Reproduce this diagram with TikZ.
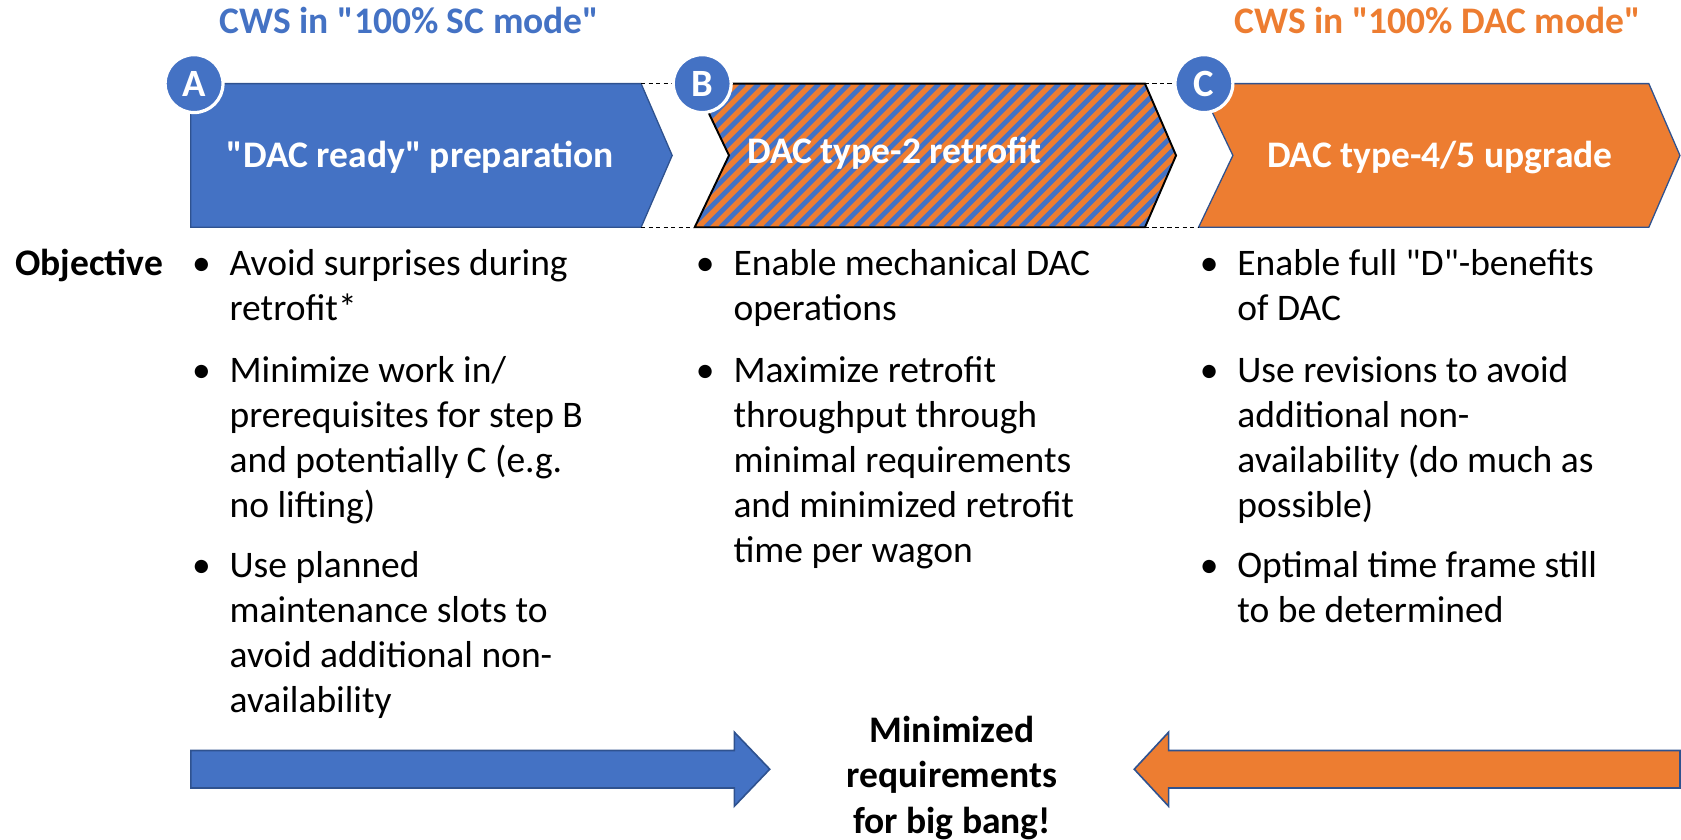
\documentclass[tikz,border=0pt]{standalone}
\usepackage{fontspec}
\setmainfont{Carlito}[Ligatures=TeXOff]
\definecolor{cblue}{HTML}{4472C4}
\definecolor{corange}{HTML}{ED7D31}
\definecolor{cedge}{HTML}{2F528F}
% bullet with a multi-line text block whose baseline is its first line
\newcommand\bulletitem[4]{%
  \node[bul] (#1b) at (#2-8,#3) {\textbullet};
  \node[btxt] (#1) at (#2+27,#3) {\begin{tabular}[t]{@{}l@{}}#4\end{tabular}};}
\begin{document}
\begin{tikzpicture}[x=1pt,y=-1pt,
  body/.style={font=\fontsize{35}{42}\selectfont, inner sep=0pt},
  bul/.style={body, anchor=base west},
  btxt/.style={body, anchor=base west},
  title/.style={font=\fontsize{35}{42}\selectfont\bfseries, inner sep=0pt, anchor=base},
  chevtext/.style={font=\fontsize{35}{42}\selectfont\bfseries, text=white, inner sep=0pt},
  badge/.style={circle, fill=cblue, draw=white, line width=3pt, minimum size=54pt,
    inner sep=0pt, text=white, font=\fontsize{36}{40}\selectfont\bfseries},
  joint/.style={dashed, line width=1pt, dash pattern=on 4pt off 3pt},
  bigarrow/.style={draw=cedge, line width=1.5pt, line join=miter}
]
\useasboundingbox (0,0) rectangle (1568,783);

% headings
\node[title, text=cblue] (hsc) at (382,31) {CWS in "100\% SC mode"};
\node[title, text=corange] (hdac) at (1341,31) {CWS in "100\% DAC mode"};

% step A
\fill[cblue] (178,78) -- (598,78) -- (627,145) -- (598,212) -- (178,212) -- cycle;
\draw[cedge, line width=1.2pt] (178,78) -- (598,78) -- (627,145) -- (598,212) -- (178,212) -- cycle;

% step B: striped chevron
\begin{scope}
  \clip (648,78) -- (1068,78) -- (1097,145) -- (1068,212) -- (648,212) -- (680,145) -- cycle;
  \fill[corange] (640,70) rectangle (1110,220);
  \foreach \s in {-140,-126,...,1110}
    \draw[cblue, line width=4.5pt] (\s,212) -- (\s+134,78);
\end{scope}
\draw[black, line width=1.8pt, line join=miter] (648,78) -- (1068,78) -- (1097,145) -- (1068,212) -- (648,212) -- (680,145) -- cycle;

% step C
\fill[corange] (1118,78) -- (1538,78) -- (1567,145) -- (1538,212) -- (1118,212) -- (1150,145) -- cycle;
\draw[cedge, line width=1.2pt] (1118,78) -- (1538,78) -- (1567,145) -- (1538,212) -- (1118,212) -- (1150,145) -- cycle;

% joints between the steps
\coordinate (a1) at (598,78);  \coordinate (b1) at (648,78);
\coordinate (a2) at (598,212); \coordinate (b2) at (648,212);
\coordinate (c1) at (1068,78);  \coordinate (d1) at (1118,78);
\coordinate (c2) at (1068,212); \coordinate (d2) at (1118,212);
\draw[joint] (a1) -- (b1);
\draw[joint] (a2) -- (b2);
\draw[joint] (c1) -- (d1);
\draw[joint] (c2) -- (d2);

% step labels
\node[chevtext] (ta) at (392,147) {"DAC ready" preparation};
\node[chevtext, anchor=west] (tb) at (697,143) {DAC type-2 retrofit};
\node[chevtext] (tc) at (1343,147) {DAC type-4/5 upgrade};

% badges
\node[badge] (ba) at (181,78) {A};
\node[badge] (bb) at (655,78) {B};
\node[badge] (bc) at (1123,78) {C};

% objectives
\node[body, font=\fontsize{35}{42}\selectfont\bfseries, anchor=base west] (obj) at (14,257) {Objective};

\bulletitem{a1t}{187}{257}{Avoid surprises during\\retrofit*}
\bulletitem{a2t}{187}{357}{Minimize work in/\\prerequisites for step B\\and potentially C (e.g.\\no lifting)}
\bulletitem{a3t}{187}{539}{Use planned\\maintenance slots to\\avoid additional non-\\availability}

\bulletitem{b1t}{657}{257}{Enable mechanical DAC\\operations}
\bulletitem{b2t}{657}{357}{Maximize retrofit\\throughput through\\minimal requirements\\and minimized retrofit\\time per wagon}

\bulletitem{c1t}{1127}{257}{Enable full "D"-benefits\\of DAC}
\bulletitem{c2t}{1127}{357}{Use revisions to avoid\\additional non-\\availability (do much as\\possible)}
\bulletitem{c3t}{1127}{539}{Optimal time frame still\\to be determined}

% convergence arrows
\fill[cblue] (178,700) -- (685,700) -- (685,683) -- (718,717.5) -- (685,752) -- (685,735) -- (178,735) -- cycle;
\draw[bigarrow] (178,700) -- (685,700) -- (685,683) -- (718,717.5) -- (685,752) -- (685,735) -- (178,735) -- cycle;
\fill[corange] (1567,700) -- (1090,700) -- (1090,683) -- (1058,717.5) -- (1090,752) -- (1090,735) -- (1567,735) -- cycle;
\draw[bigarrow] (1567,700) -- (1090,700) -- (1090,683) -- (1058,717.5) -- (1090,752) -- (1090,735) -- (1567,735) -- cycle;

\node[body, font=\fontsize{35}{42}\selectfont\bfseries, anchor=base] (goal) at (888,693)
  {\begin{tabular}[t]{@{}c@{}}Minimized\\requirements\\for big bang!\end{tabular}};
\end{tikzpicture}
\end{document}
